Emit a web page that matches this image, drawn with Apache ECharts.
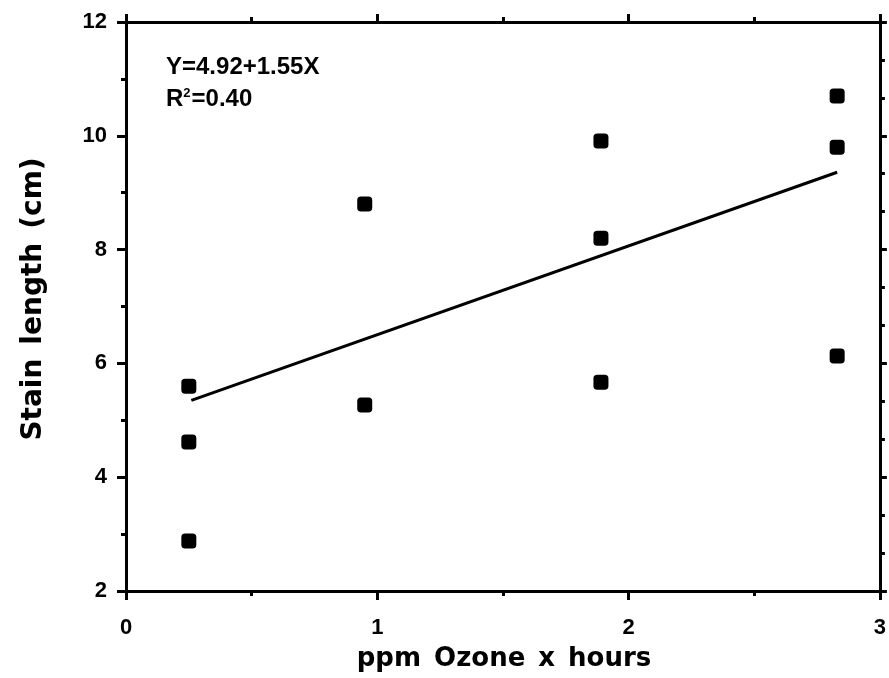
<!DOCTYPE html>
<html>
<head>
<meta charset="utf-8">
<script src="https://cdn.jsdelivr.net/npm/echarts@6/dist/echarts.min.js"></script>
<style>
html,body{margin:0;padding:0;background:#fff;}
#c{width:889px;height:678px;}
</style>
</head>
<body>
<div id="c"></div>
<script>
// Data
var ozoneX = [0.25, 0.25, 0.25, 0.95, 0.95, 1.89, 1.89, 1.89, 2.83, 2.83, 2.83];
var stainY = [2.88, 4.62, 5.60, 8.80, 5.27, 9.91, 8.20, 5.67, 10.70, 9.80, 6.13];
var fitX = [0.26, 2.83];
var fitY = [5.35, 9.36];
var equationText = 'Y=4.92+1.55X';
var r2Text = '0.40';
var xTitle = 'ppm\u2002Ozone\u2002x\u2002hours';
var yTitle = 'Stain\u2002length\u2002(cm)';

var pts = ozoneX.map(function (x, i) { return [x, stainY[i]]; });
var fit = fitX.map(function (x, i) { return [x, fitY[i]]; });

var FONT = '"Liberation Sans", Arial, Helvetica, sans-serif';
var TFONT = '"DejaVu Sans", "Liberation Sans", sans-serif';
var axisLine = { show: true, onZero: false, lineStyle: { color: '#000', width: 3 } };

var chart = echarts.init(document.getElementById('c'));
chart.setOption({
  animation: false,
  backgroundColor: '#fff',
  grid: { left: 126, right: 8, top: 22, bottom: 87 },
  xAxis: [
    {
      type: 'value', position: 'bottom', min: 0, max: 3, interval: 1,
      axisLine: axisLine,
      axisTick: { show: true, inside: false, length: 9, lineStyle: { color: '#000', width: 3 } },
      minorTick: { show: true, splitNumber: 2, length: 5, lineStyle: { color: '#000', width: 3 } },
      splitLine: { show: false },
      axisLabel: { color: '#000', fontFamily: FONT, fontWeight: 'bold', fontSize: 22, margin: 26 }
    },
    {
      type: 'value', position: 'top', min: 0, max: 3, interval: 1,
      axisLine: axisLine,
      axisTick: { show: true, inside: false, length: 8, lineStyle: { color: '#000', width: 3 } },
      minorTick: { show: true, splitNumber: 2, length: 5, lineStyle: { color: '#000', width: 3 } },
      splitLine: { show: false },
      axisLabel: { show: false }
    }
  ],
  yAxis: [
    {
      type: 'value', position: 'left', min: 2, max: 12, interval: 2,
      axisLine: axisLine,
      axisTick: { show: true, inside: false, length: 9, lineStyle: { color: '#000', width: 3 } },
      minorTick: { show: true, splitNumber: 2, length: 5, lineStyle: { color: '#000', width: 3 } },
      splitLine: { show: false },
      axisLabel: { color: '#000', fontFamily: FONT, fontWeight: 'bold', fontSize: 22, margin: 19 }
    },
    {
      type: 'value', position: 'right', min: 2, max: 12, interval: 2,
      axisLine: axisLine,
      axisTick: { show: true, inside: false, length: 7, lineStyle: { color: '#000', width: 3 } },
      minorTick: { show: true, splitNumber: 3, length: 5, lineStyle: { color: '#000', width: 3 } },
      splitLine: { show: false },
      axisLabel: { show: false }
    }
  ],
  series: [
    {
      type: 'line', data: fit, xAxisIndex: 0, yAxisIndex: 0,
      showSymbol: false, symbol: 'none',
      lineStyle: { color: '#000', width: 3 }
    },
    {
      type: 'scatter', data: pts, xAxisIndex: 0, yAxisIndex: 0,
      symbol: 'roundRect', symbolSize: [15, 15],
      itemStyle: { color: '#000', opacity: 1 }
    }
  ],
  graphic: [
    {
      type: 'text', left: 166, top: 55,
      style: { text: equationText, fill: '#000', font: 'bold 24px ' + FONT }
    },
    {
      type: 'text', left: 166, top: 87,
      style: {
        text: 'R{s|2}=' + r2Text,
        rich: { s: { fontSize: 13, fontWeight: 'bold', fontFamily: FONT, verticalAlign: 'top', padding: [0, 1, 12, 0] } },
        fill: '#000', font: 'bold 24px ' + FONT
      }
    },
    {
      type: 'text', x: 34, y: 299, rotation: Math.PI / 2,
      style: { text: yTitle, fill: '#000', font: 'bold 28px ' + TFONT, align: 'center', verticalAlign: 'middle' }
    },
    {
      type: 'text', x: 504, y: 659,
      style: { text: xTitle, fill: '#000', font: 'bold 26px ' + TFONT, align: 'center', verticalAlign: 'middle' }
    }
  ]
});
</script>
</body>
</html>
